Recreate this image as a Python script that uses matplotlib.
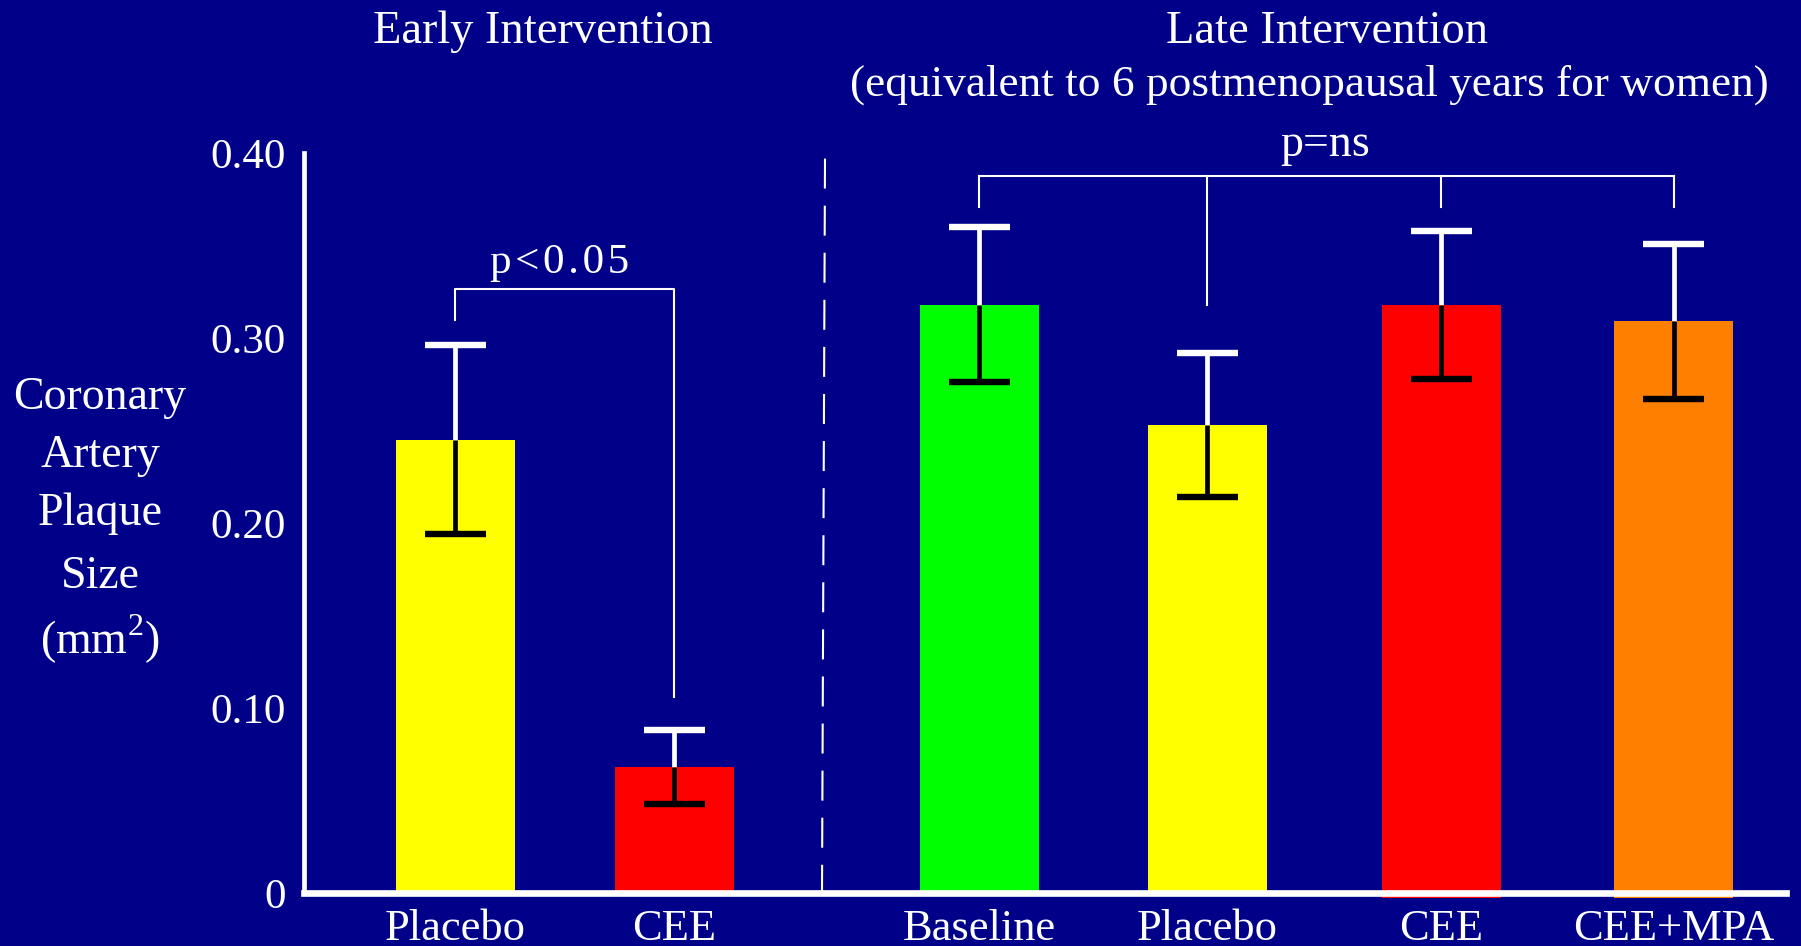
import matplotlib
matplotlib.use("Agg")
import matplotlib.pyplot as plt
import numpy as np

# ---- data ----
categories = ["Placebo", "CEE", "Baseline", "Placebo", "CEE", "CEE+MPA"]
means = [0.245, 0.068, 0.318, 0.253, 0.318, 0.309]
errors = [0.051, 0.020, 0.042, 0.039, 0.040, 0.042]
bar_colors = ["#FFFF00", "#FF0000", "#00FF00", "#FFFF00", "#FF0000", "#FF8000"]
ytick_values = [0.0, 0.10, 0.20, 0.30, 0.40]
ytick_labels = ["0", "0.10", "0.20", "0.30", "0.40"]
early_title = "Early Intervention"
late_title = "Late Intervention"
late_subtitle = "(equivalent to 6 postmenopausal years for women)"
ylabel_lines = ["Coronary", "Artery", "Plaque", "Size", "(mm$^2$)"]
early_p = "p\u200a<\u200a0\u200a.\u200a0\u200a5"
late_p = "p=ns"

# ---- layout ----
BG = "#000088"
W, H = 1801, 946
positions = [1.51, 3.70, 6.75, 9.03, 11.37, 13.695]
bar_width = 1.19
bottoms = [0, 0, 0, 0, -0.0025, -0.0025]
cap_half = 0.305

plt.rcParams["font.family"] = ["Liberation Serif", "DejaVu Serif"]
plt.rcParams["mathtext.fontset"] = "custom"
plt.rcParams["mathtext.rm"] = "Liberation Serif"

fig = plt.figure(figsize=(W / 100, H / 100), dpi=100, facecolor=BG)
ax = fig.add_axes([304 / W, 53 / H, 1482 / W, 740 / H])
ax.set_facecolor(BG)
ax.set_xlim(0, 14.82)
ax.set_ylim(0, 0.40)

bars = ax.bar(positions, [m - b for m, b in zip(means, bottoms)], bottom=bottoms,
              width=bar_width, color=bar_colors, edgecolor="none", zorder=1)
for b in bars:
    b.set_clip_on(False)

# error bars: white upper half, black lower half
for x, m, e in zip(positions, means, errors):
    ax.vlines(x, m, m + e, color="white", lw=3.4, zorder=3)
    ax.hlines(m + e, x - cap_half, x + cap_half, color="white", lw=4.6, zorder=3,
              capstyle="butt")
    ax.vlines(x, m - e, m, color="black", lw=3.4, zorder=3)
    ax.hlines(m - e, x - cap_half, x + cap_half, color="black", lw=4.6, zorder=3,
              capstyle="butt")

# early significance bracket
by = 0.3265
ax.plot([positions[0], positions[0], positions[1], positions[1]],
        [0.310, by, by, 0.106], color="white", lw=1.5, clip_on=False, zorder=4)
ax.text(2.56, 0.335, early_p, color="white", fontsize=31, ha="center",
        va="baseline")

# late bracket
ny = 0.3876
ax.plot([positions[2], positions[5]], [ny, ny], color="white", lw=1.5,
        clip_on=False, zorder=4)
for x, bot in zip(positions[2:], [0.371, 0.318, 0.371, 0.371]):
    ax.plot([x, x], [ny, bot], color="white", lw=1.5, clip_on=False, zorder=4)
ax.text(10.21, 0.3985, late_p, color="white", fontsize=33, ha="center",
        va="baseline", clip_on=False)

# dashed separator
ax.plot([5.21, 5.18], [0.397, 0.0], color="white", lw=1.5,
        linestyle=(0, (14.4, 8.2)), clip_on=False, zorder=2)

# spines / ticks
for s in ["top", "right"]:
    ax.spines[s].set_visible(False)
ax.spines["left"].set_color("white")
ax.spines["left"].set_linewidth(3.4)
ax.spines["bottom"].set_color("white")
ax.spines["bottom"].set_linewidth(4.8)
ax.spines["left"].set_capstyle("projecting")

ax.set_yticks(ytick_values)
ax.set_yticklabels(ytick_labels)
ax.set_xticks(positions)
ax.set_xticklabels(categories)
ax.tick_params(axis="y", length=0, pad=13, colors="white", labelsize=31)
ax.tick_params(axis="x", length=0, pad=11.5, colors="white", labelsize=32)

# titles (figure pixel coordinates)
def fig_text(xp, yp, s, size, va="center"):
    fig.text(xp / W, 1 - yp / H, s, color="white", fontsize=size,
             ha="center", va=va)

fig_text(543, 32, early_title, 33.5)
fig_text(1327, 32, late_title, 33.5)
fig_text(1309, 84.5, late_subtitle, 32.6)

baselines = [408.7, 467, 524.7, 588, 654]
for line, yb in zip(ylabel_lines, baselines):
    fig_text(100, yb, line, 33, va="baseline")

fig.savefig("out.png", dpi=100, facecolor=BG)
